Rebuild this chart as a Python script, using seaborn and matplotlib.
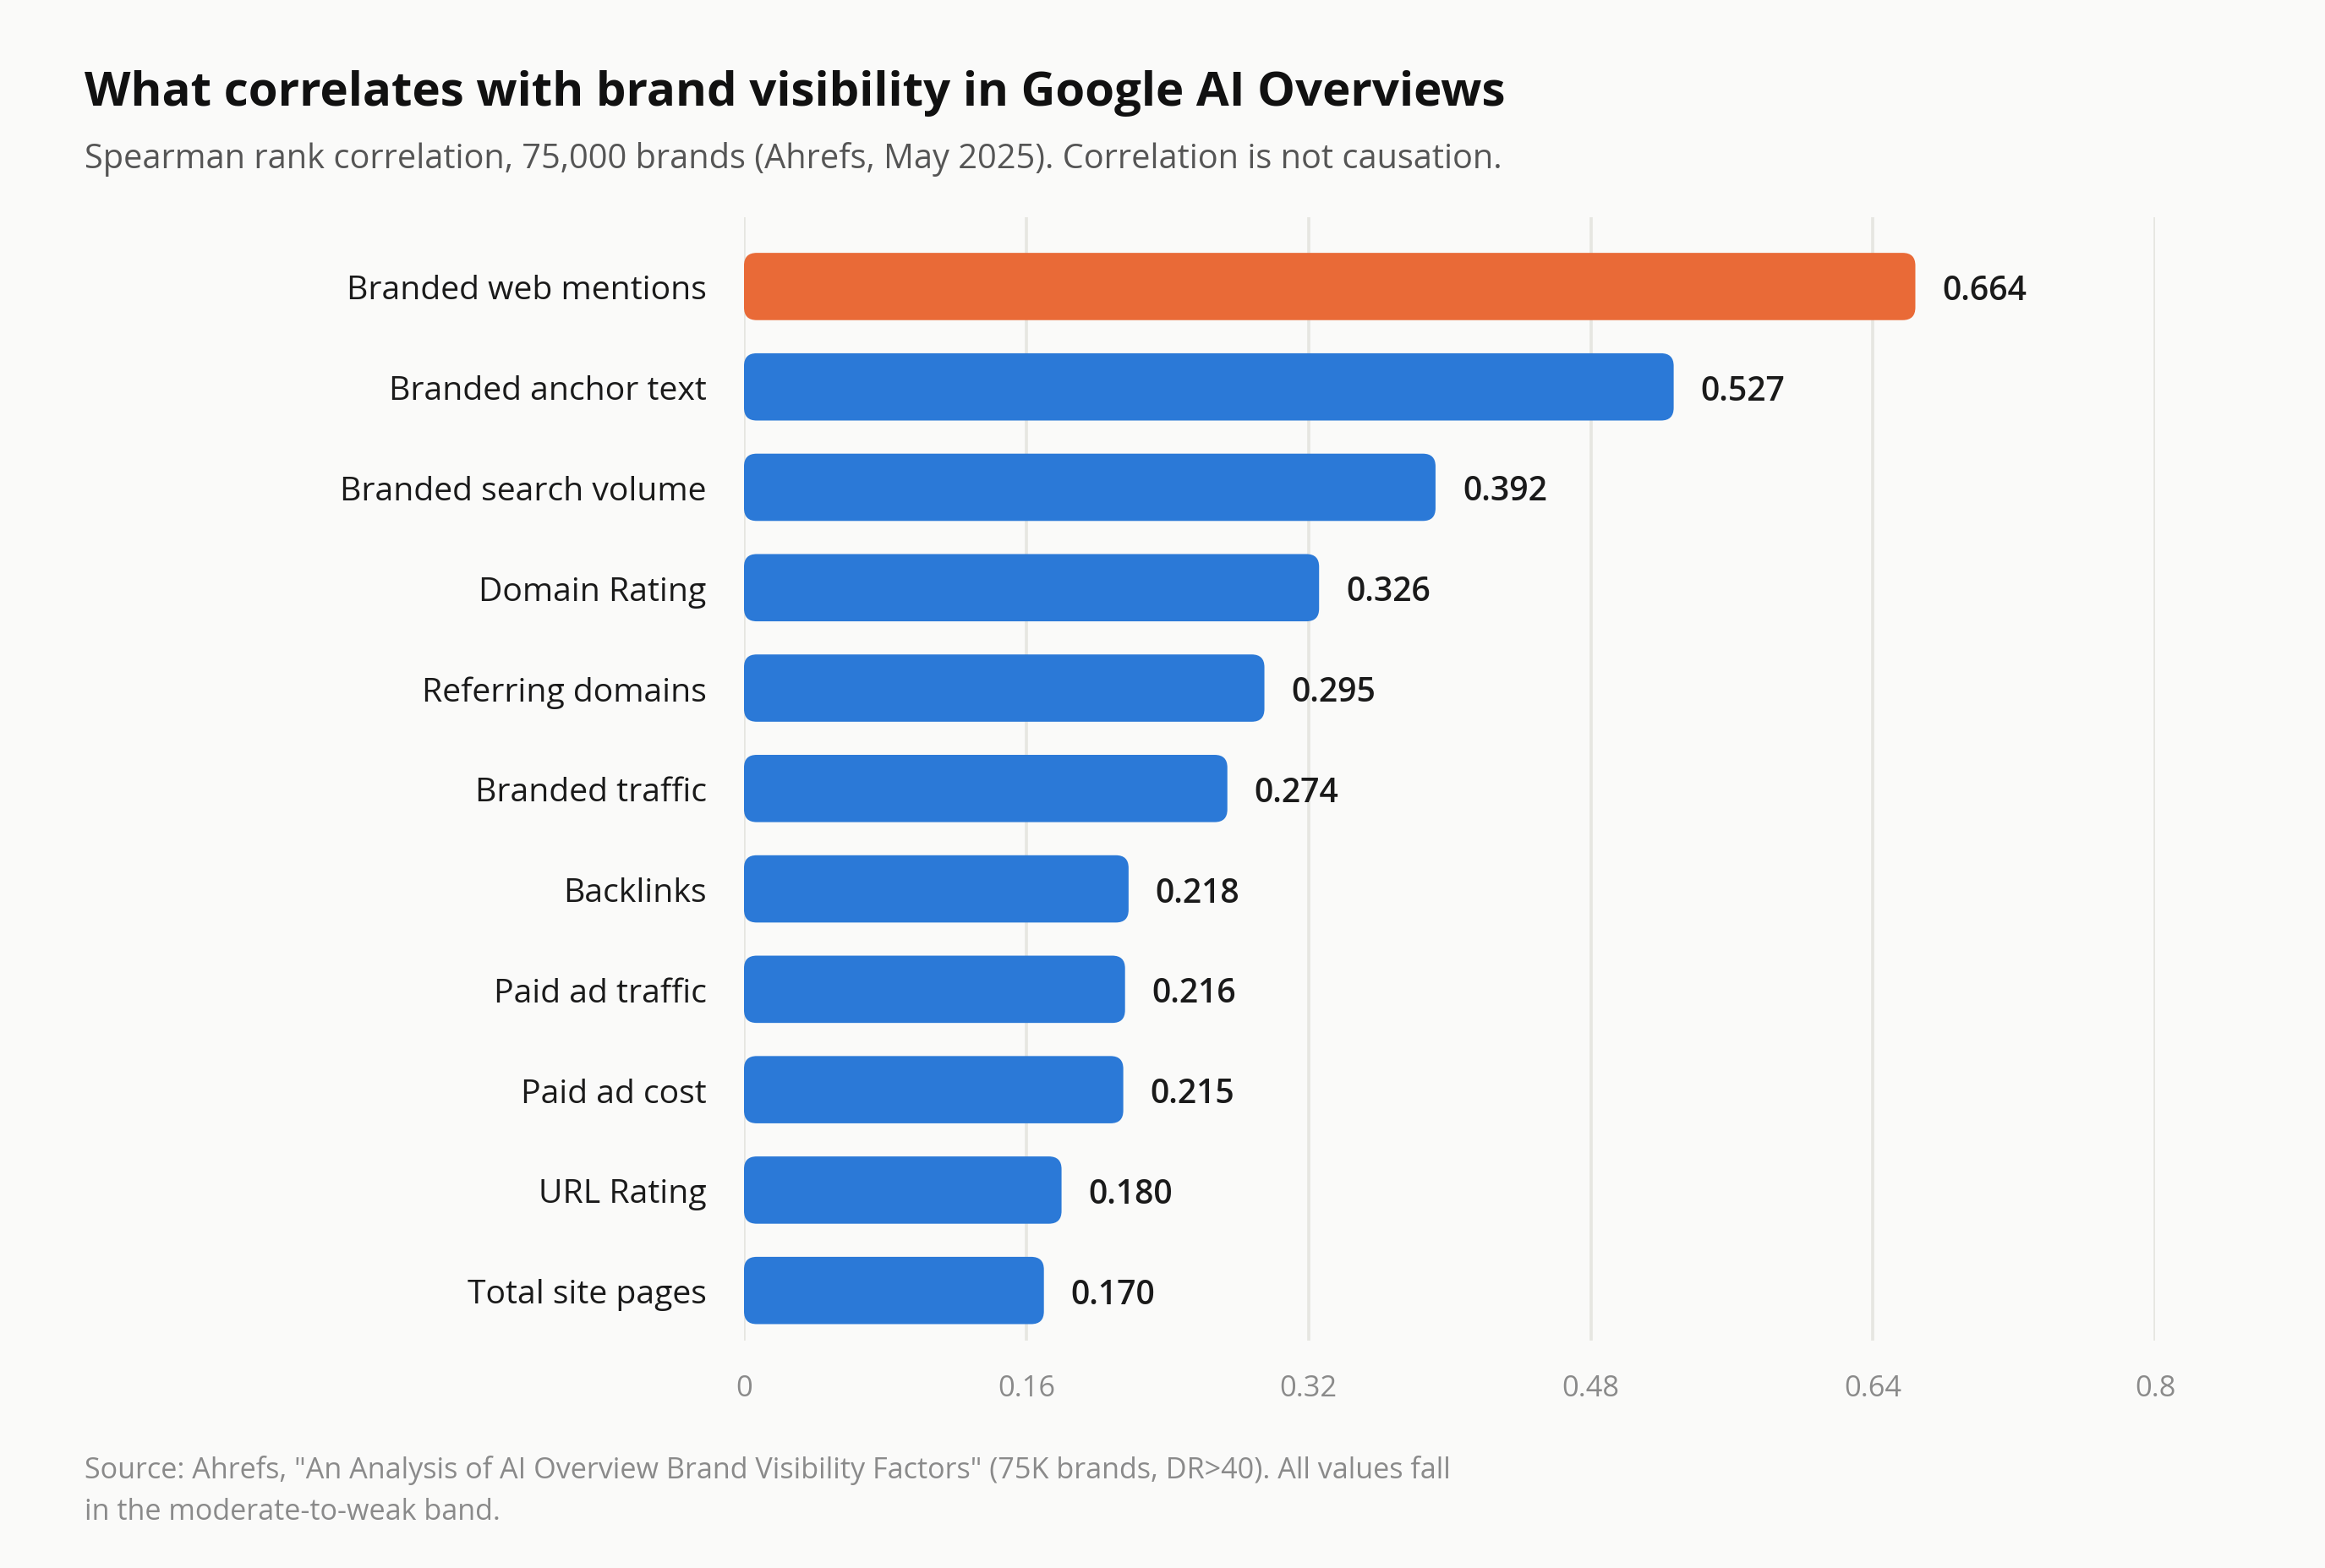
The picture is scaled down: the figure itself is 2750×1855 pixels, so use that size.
import pandas as pd
import seaborn as sns
import matplotlib.pyplot as plt
from matplotlib.patches import FancyBboxPatch

factors = ['Branded web mentions', 'Branded anchor text', 'Branded search volume',
           'Domain Rating', 'Referring domains', 'Branded traffic', 'Backlinks',
           'Paid ad traffic', 'Paid ad cost', 'URL Rating', 'Total site pages']
rho = [0.664, 0.527, 0.392, 0.326, 0.295, 0.274, 0.218, 0.216, 0.215, 0.180, 0.170]
x_ticks = [0, 0.16, 0.32, 0.48, 0.64, 0.8]
x_tick_labels = ['0', '0.16', '0.32', '0.48', '0.64', '0.8']

BG = '#fafaf9'
ORANGE = '#e96a37'
BLUE = '#2b79d7'

sns.set_theme(style='white')
plt.rcParams['font.family'] = ['Open Sans', 'DejaVu Sans']

df = pd.DataFrame({'factor': factors, 'rho': rho})
palette = {f: (ORANGE if i == 0 else BLUE) for i, f in enumerate(factors)}

fig = plt.figure(figsize=(13.75, 9.28), dpi=200, facecolor=BG)
ax = fig.add_axes([0.32, 0.1449, 0.607, 0.7161])
ax.set_facecolor(BG)

sns.barplot(data=df, x='rho', y='factor', hue='factor', palette=palette,
            legend=False, width=0.67, saturation=1, ax=ax, zorder=3)

ax.set_xlim(0, 0.8)
ax.set_ylim(10.5, -0.69)

# swap the square bars for rounded ones
fig.canvas.draw()
bbox = ax.get_window_extent()
px_per_x = bbox.width / 0.8
px_per_y = bbox.height / (10.5 + 0.69)
radius_px = 15
for p in list(ax.patches):
    x0, y0 = p.get_x(), p.get_y()
    w, h = p.get_width(), p.get_height()
    color = p.get_facecolor()
    p.remove()
    rb = FancyBboxPatch((x0, y0), w, h,
                        boxstyle=f'round,pad=0,rounding_size={radius_px / px_per_x}',
                        mutation_aspect=px_per_x / px_per_y,
                        facecolor=color, edgecolor='none', zorder=3)
    ax.add_patch(rb)
    ax.text(x0 + w + 32 / px_per_x, y0 + h / 2, f'{w:.3f}', va='center_baseline', ha='left',
            fontsize=14.1, fontweight='semibold', color='#1a1a1a')

ax.set_xticks(x_ticks)
ax.set_xticklabels(x_tick_labels)
ax.grid(axis='x', color='#e6e6e1', linewidth=1.3, zorder=0)
ax.grid(axis='y', visible=False)
for s in ax.spines.values():
    s.set_visible(False)
ax.tick_params(axis='x', length=0, pad=14, labelsize=12.4, labelcolor='#8a8a8a')
ax.tick_params(axis='y', length=0, pad=16, labelsize=14.1, labelcolor='#1a1a1a')
ax.set_xlabel('')
ax.set_ylabel('')

fig.text(0.0364, 0.9327, 'What correlates with brand visibility in Google AI Overviews',
         fontsize=20.3, fontweight='bold', color='#111111', va='baseline', ha='left')
fig.text(0.0364, 0.8928,
         'Spearman rank correlation, 75,000 brands (Ahrefs, May 2025). Correlation is not causation.',
         fontsize=14.3, color='#555555', va='baseline', ha='left')
fig.text(0.0364, 1 - 1749 / 1856,
         'Source: Ahrefs, "An Analysis of AI Overview Brand Visibility Factors" (75K brands, DR>40). All values fall',
         fontsize=12.3, color='#8a8a8a', va='baseline', ha='left')
fig.text(0.0364, 1 - 1798 / 1856, 'in the moderate-to-weak band.',
         fontsize=12.3, color='#8a8a8a', va='baseline', ha='left')

fig.savefig('out.png', dpi=200, facecolor=BG)
